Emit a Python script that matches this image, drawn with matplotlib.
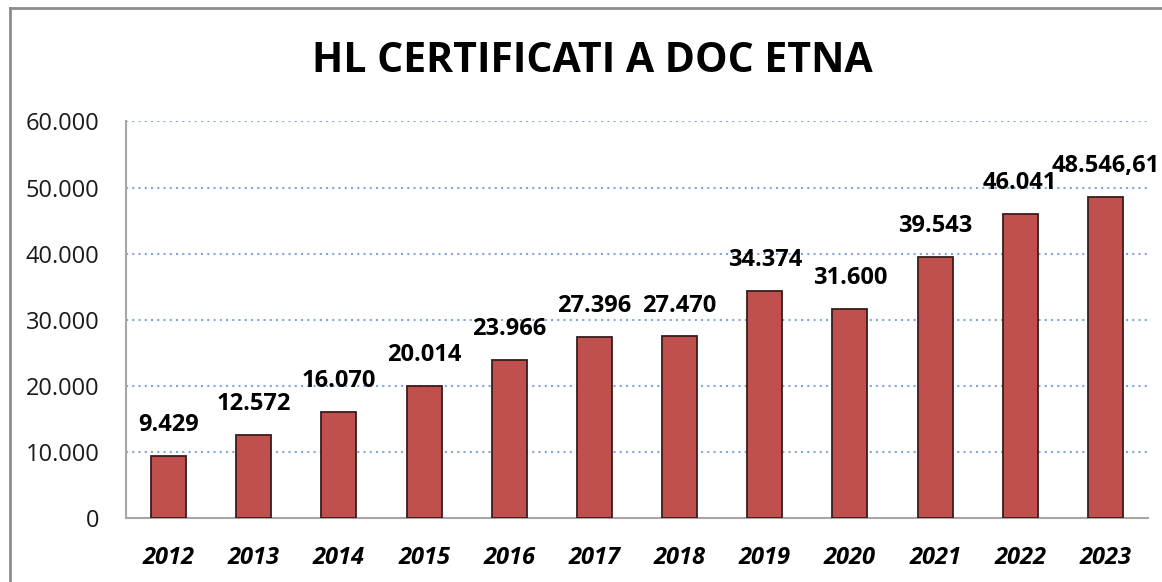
import matplotlib
matplotlib.use("Agg")
import matplotlib.pyplot as plt
from matplotlib.lines import Line2D
from matplotlib.ticker import FuncFormatter, MultipleLocator

years = ["2012", "2013", "2014", "2015", "2016", "2017", "2018", "2019", "2020", "2021", "2022", "2023"]
values = [9429, 12572, 16070, 20014, 23966, 27396, 27470, 34374, 31600, 39543, 46041, 48546.61]
labels = ["9.429", "12.572", "16.070", "20.014", "23.966", "27.396", "27.470", "34.374", "31.600", "39.543", "46.041", "48.546,61"]
title = "HL CERTIFICATI A DOC ETNA"

plt.rcParams['font.family'] = ['Open Sans', 'DejaVu Sans']

fig = plt.figure(figsize=(11.62, 5.82), dpi=100)
ax = fig.add_axes([126/1162, 64/582, 1022/1162, 396.5/582])

x = list(range(len(years)))
ax.bar(x, values, width=0.41, color="#C0504D", edgecolor="#3a1c1c", linewidth=1.3, zorder=3)

for xi, v, lab in zip(x, values, labels):
    ax.annotate(lab, (xi, v), xytext=(0, 13.5), textcoords="offset points",
                ha="center", va="bottom", fontsize=17, fontweight="bold", color="black",
                zorder=4, annotation_clip=False)

ax.set_xlim(-0.5, len(years) - 0.5)
ax.set_ylim(0, 60000)
ax.yaxis.set_major_locator(MultipleLocator(10000))
ax.yaxis.set_major_formatter(FuncFormatter(lambda v, p: f"{int(v):,}".replace(",", ".")))
ax.set_xticks(x)
ax.set_xticklabels(years, fontsize=17, fontweight="bold", fontstyle="italic")
ax.tick_params(axis="x", length=0, pad=20)
ax.tick_params(axis="y", length=0, pad=19, labelsize=17, labelcolor="#1a1a1a")

ax.grid(axis="y", color="#7FA6E0", linestyle=(0, (1, 2)), linewidth=1.5, zorder=0)
for s in ["top", "right"]:
    ax.spines[s].set_visible(False)
for s in ["left", "bottom"]:
    ax.spines[s].set_color("#A6A6A6")
    ax.spines[s].set_linewidth(1.5)

fig.text(592/1162, 1 - 62/582, title, ha="center", va="center", fontsize=29.5, fontweight="bold", color="black")

# outer frame (left and top edges)
fig.add_artist(Line2D([10/1162, 10/1162], [0, 1 - 8/582], transform=fig.transFigure, color="#8C8C8C", linewidth=2))
fig.add_artist(Line2D([10/1162, 1], [1 - 8/582, 1 - 8/582], transform=fig.transFigure, color="#8C8C8C", linewidth=2))

fig.savefig("out.png", dpi=100)
